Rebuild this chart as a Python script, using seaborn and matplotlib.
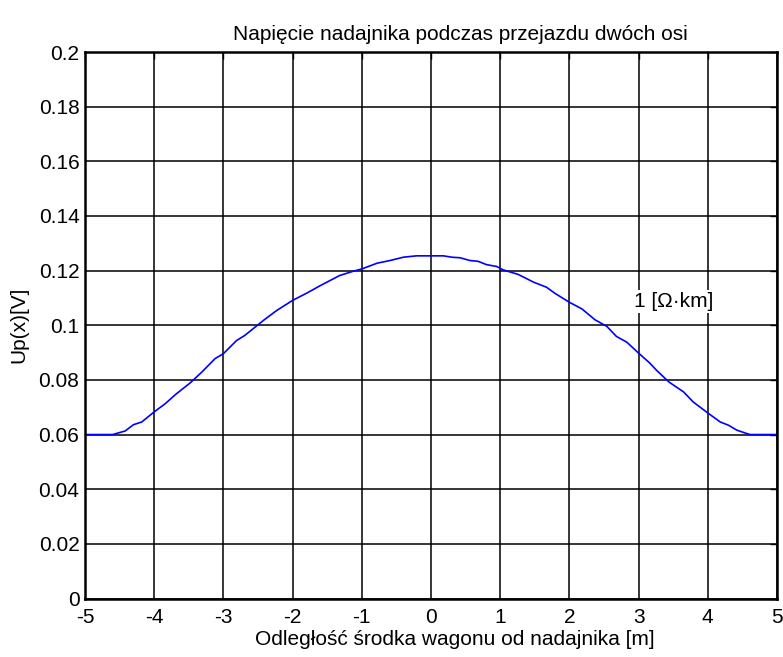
import matplotlib
matplotlib.use("Agg")
import matplotlib.pyplot as plt
import matplotlib.ticker as ticker
import seaborn as sns
import numpy as np

#
# 01. Teksty
#
tytul = "Napięcie nadajnika podczas przejazdu dwóch osi"
opisX = "Odległość środka wagonu od nadajnika [m]"
opisY = "Up(x)[V]"
etykietaKrzywej = "1 [Ω·km]"

#
# 02. Dane
#
odleglosc = [-5.0, -4.6, -4.42, -4.30, -4.18, -4.0, -3.84, -3.69, -3.48, -3.31,
             -3.12, -3.0, -2.81, -2.69, -2.42, -2.23, -2.0, -1.80, -1.60, -1.32,
             -1.12, -1.0, -0.78, -0.59, -0.40, -0.21, 0.0, 0.18, 0.30, 0.42,
             0.56, 0.68, 0.80, 0.95, 1.04, 1.26, 1.48, 1.67, 1.79, 2.0,
             2.18, 2.37, 2.54, 2.68, 2.83, 3.0, 3.16, 3.26, 3.44, 3.65,
             3.79, 4.0, 4.18, 4.30, 4.42, 4.56, 4.61, 5.0]
napiecie = [0.0600, 0.0600, 0.0613, 0.0636, 0.0646, 0.0683, 0.0713, 0.0747, 0.0789, 0.0829,
            0.0878, 0.0896, 0.0944, 0.0963, 0.1018, 0.1054, 0.1091, 0.1117, 0.1145, 0.1182,
            0.1198, 0.1206, 0.1227, 0.1237, 0.1249, 0.1254, 0.1254, 0.1254, 0.1249, 0.1247,
            0.1237, 0.1234, 0.1222, 0.1215, 0.1203, 0.1186, 0.1158, 0.1139, 0.1117, 0.1084,
            0.1060, 0.1020, 0.0996, 0.0959, 0.0938, 0.0898, 0.0862, 0.0835, 0.0792, 0.0756,
            0.0719, 0.0679, 0.0646, 0.0634, 0.0616, 0.0604, 0.0600, 0.0600]

xTicks = [-5, -4, -3, -2, -1, 0, 1, 2, 3, 4, 5]
yTicks = [0, 0.02, 0.04, 0.06, 0.08, 0.1, 0.12, 0.14, 0.16, 0.18, 0.2]

#
# 03. Styl
#
sns.set_theme(style="white")
plt.rcParams['font.family'] = ['Liberation Sans', 'DejaVu Sans']
rozmiar = 15

#
# 04. Wykres
#
fig, ax = plt.subplots(figsize=(7.83, 6.57), dpi=100)
fig.subplots_adjust(left=85/783, right=777/783, bottom=58.5/657, top=605/657)

sns.lineplot(x=odleglosc, y=napiecie, color="#0000ff", linewidth=1.2, ax=ax, zorder=3)

ax.set_xlim(-5, 5)
ax.set_ylim(0, 0.2)
ax.set_xticks(xTicks)
ax.set_yticks(yTicks)
ax.xaxis.set_major_formatter(ticker.FuncFormatter(lambda v, p: f"{v:g}"))
ax.yaxis.set_major_formatter(ticker.FuncFormatter(lambda v, p: f"{v:g}"))

# siatka
ax.grid(True, color="black", linewidth=1.1, alpha=1.0)
ax.set_axisbelow(True)

# ramka
for s in ['bottom', 'left', 'top', 'right']:
    ax.spines[s].set_linewidth(1.8)
    ax.spines[s].set_color('black')
    ax.spines[s].set_zorder(5)

ax.tick_params(direction='in', length=5, width=1.0, color='black',
               top=True, right=True, labelsize=rozmiar, labelcolor='black')
ax.tick_params(axis='x', pad=7)
ax.tick_params(axis='y', pad=4)

#
# 05. Opisy
#
ax.set_title(tytul, fontsize=rozmiar, pad=9, color='black', x=0.543)
ax.set_xlabel(opisX, fontsize=rozmiar, labelpad=2, color='black', x=0.535)
ax.set_ylabel(opisY, fontsize=rozmiar, labelpad=7, color='black')

ax.text(2.93, 0.1087, etykietaKrzywej, fontsize=15, ha='left', va='center',
        color='black', zorder=4,
        bbox=dict(facecolor='white', edgecolor='none', pad=1.5))

#
# 06. Zapis
#
fig.savefig("out.png", dpi=100, facecolor='white')
